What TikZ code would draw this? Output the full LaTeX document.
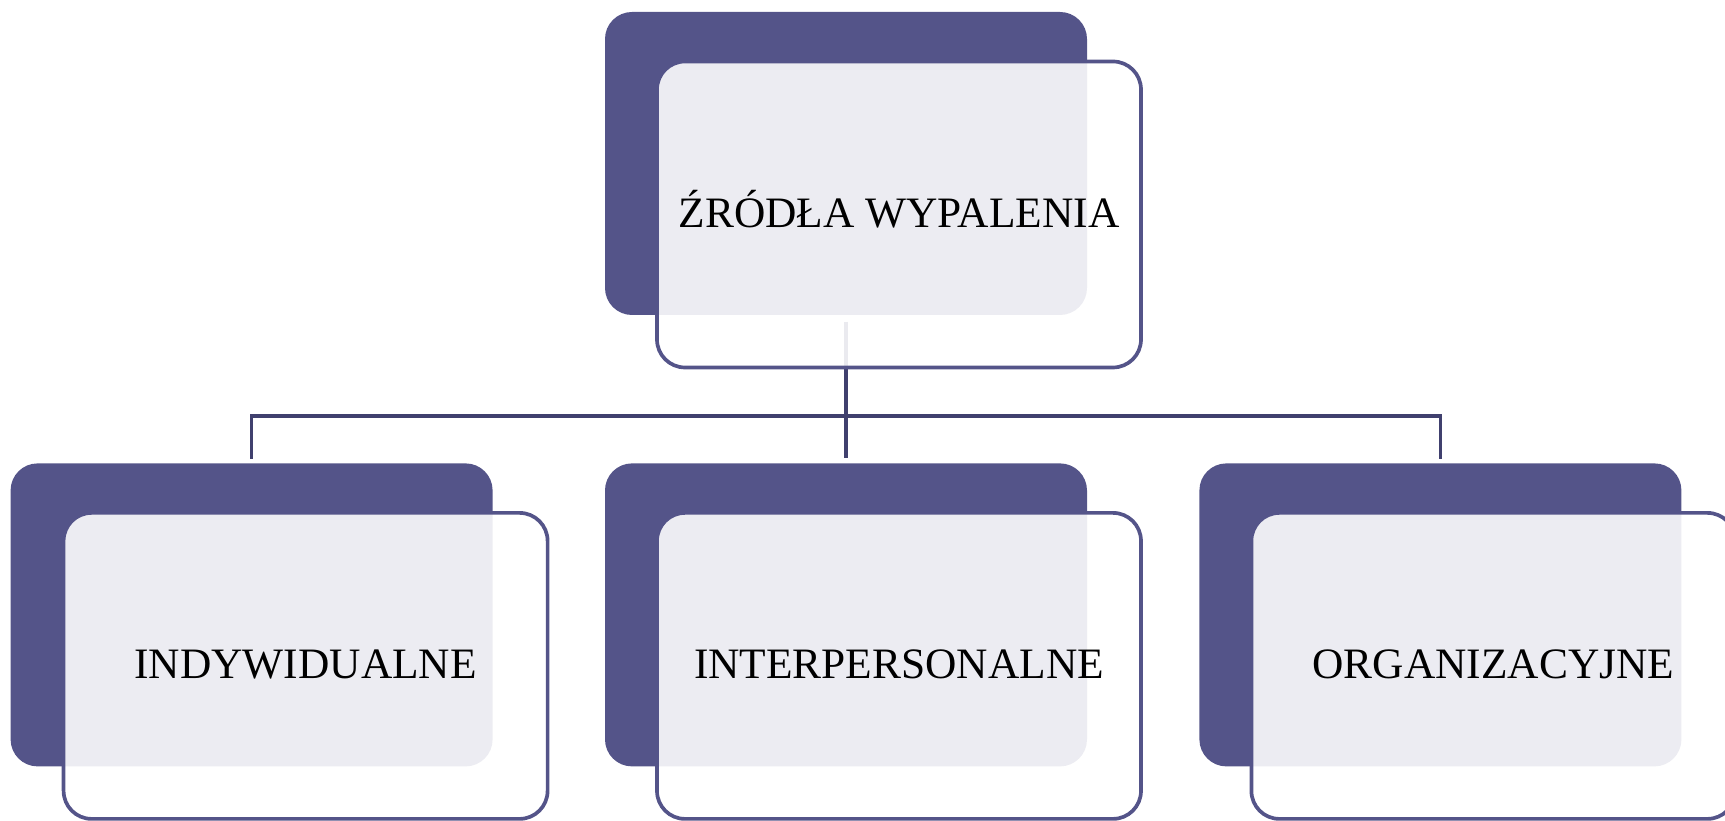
\documentclass[tikz,border=0pt]{standalone}
\usepackage{fontspec}
\setmainfont{Liberation Serif}
\usepackage{tikz}
\usetikzlibrary{positioning}
\usepackage{xcolor}
\definecolor{boxpurple}{HTML}{545489}
\definecolor{linkpurple}{HTML}{40406E}

\begin{document}
\begin{tikzpicture}[node distance=1.11cm, every node/.style={font=\fontsize{12.35}{14.8}\selectfont}]
\tikzstyle{back}=[fill=boxpurple, rounded corners=0.27cm, minimum width=4.82cm, minimum height=3.03cm, inner sep=0pt]
\tikzstyle{front}=[draw=boxpurple, line width=1.05pt, fill=white, fill opacity=0.89, text opacity=1, rounded corners=0.28cm, minimum width=4.84cm, minimum height=3.06cm, inner sep=0pt, text height=0.72em, text depth=0pt, align=center]
\tikzstyle{link}=[draw=linkpurple, line width=1.05pt]
\clip (0,0) rectangle (17.25,-8.21);
% back plates
\node[back] (srcBack) at (8.46,-1.635) {};
\node[back,below=1.47cm of srcBack] (intBack) {};
\node[back,left=of intBack] (indBack) {};
\node[back,right=of intBack] (orgBack) {};
% tree lines
\draw[link,shorten <=0.06cm,shorten >=0.05cm] (srcBack.south)--(intBack.north);
\draw[link,shorten <=0.04cm,shorten >=0.04cm] (indBack.north)--++(0,0.47)-|(orgBack.north);
% front cards
\node[front,xshift=0.53cm,yshift=-0.51cm] (src) at (srcBack) {ŹRÓDŁA WYPALENIA};
\node[front,xshift=0.54cm,yshift=-0.51cm] (ind) at (indBack) {INDYWIDUALNE};
\node[front,xshift=0.53cm,yshift=-0.51cm] (int) at (intBack) {INTERPERSONALNE};
\node[front,xshift=0.53cm,yshift=-0.51cm] (org) at (orgBack) {ORGANIZACYJNE};
\end{tikzpicture}
\end{document}
